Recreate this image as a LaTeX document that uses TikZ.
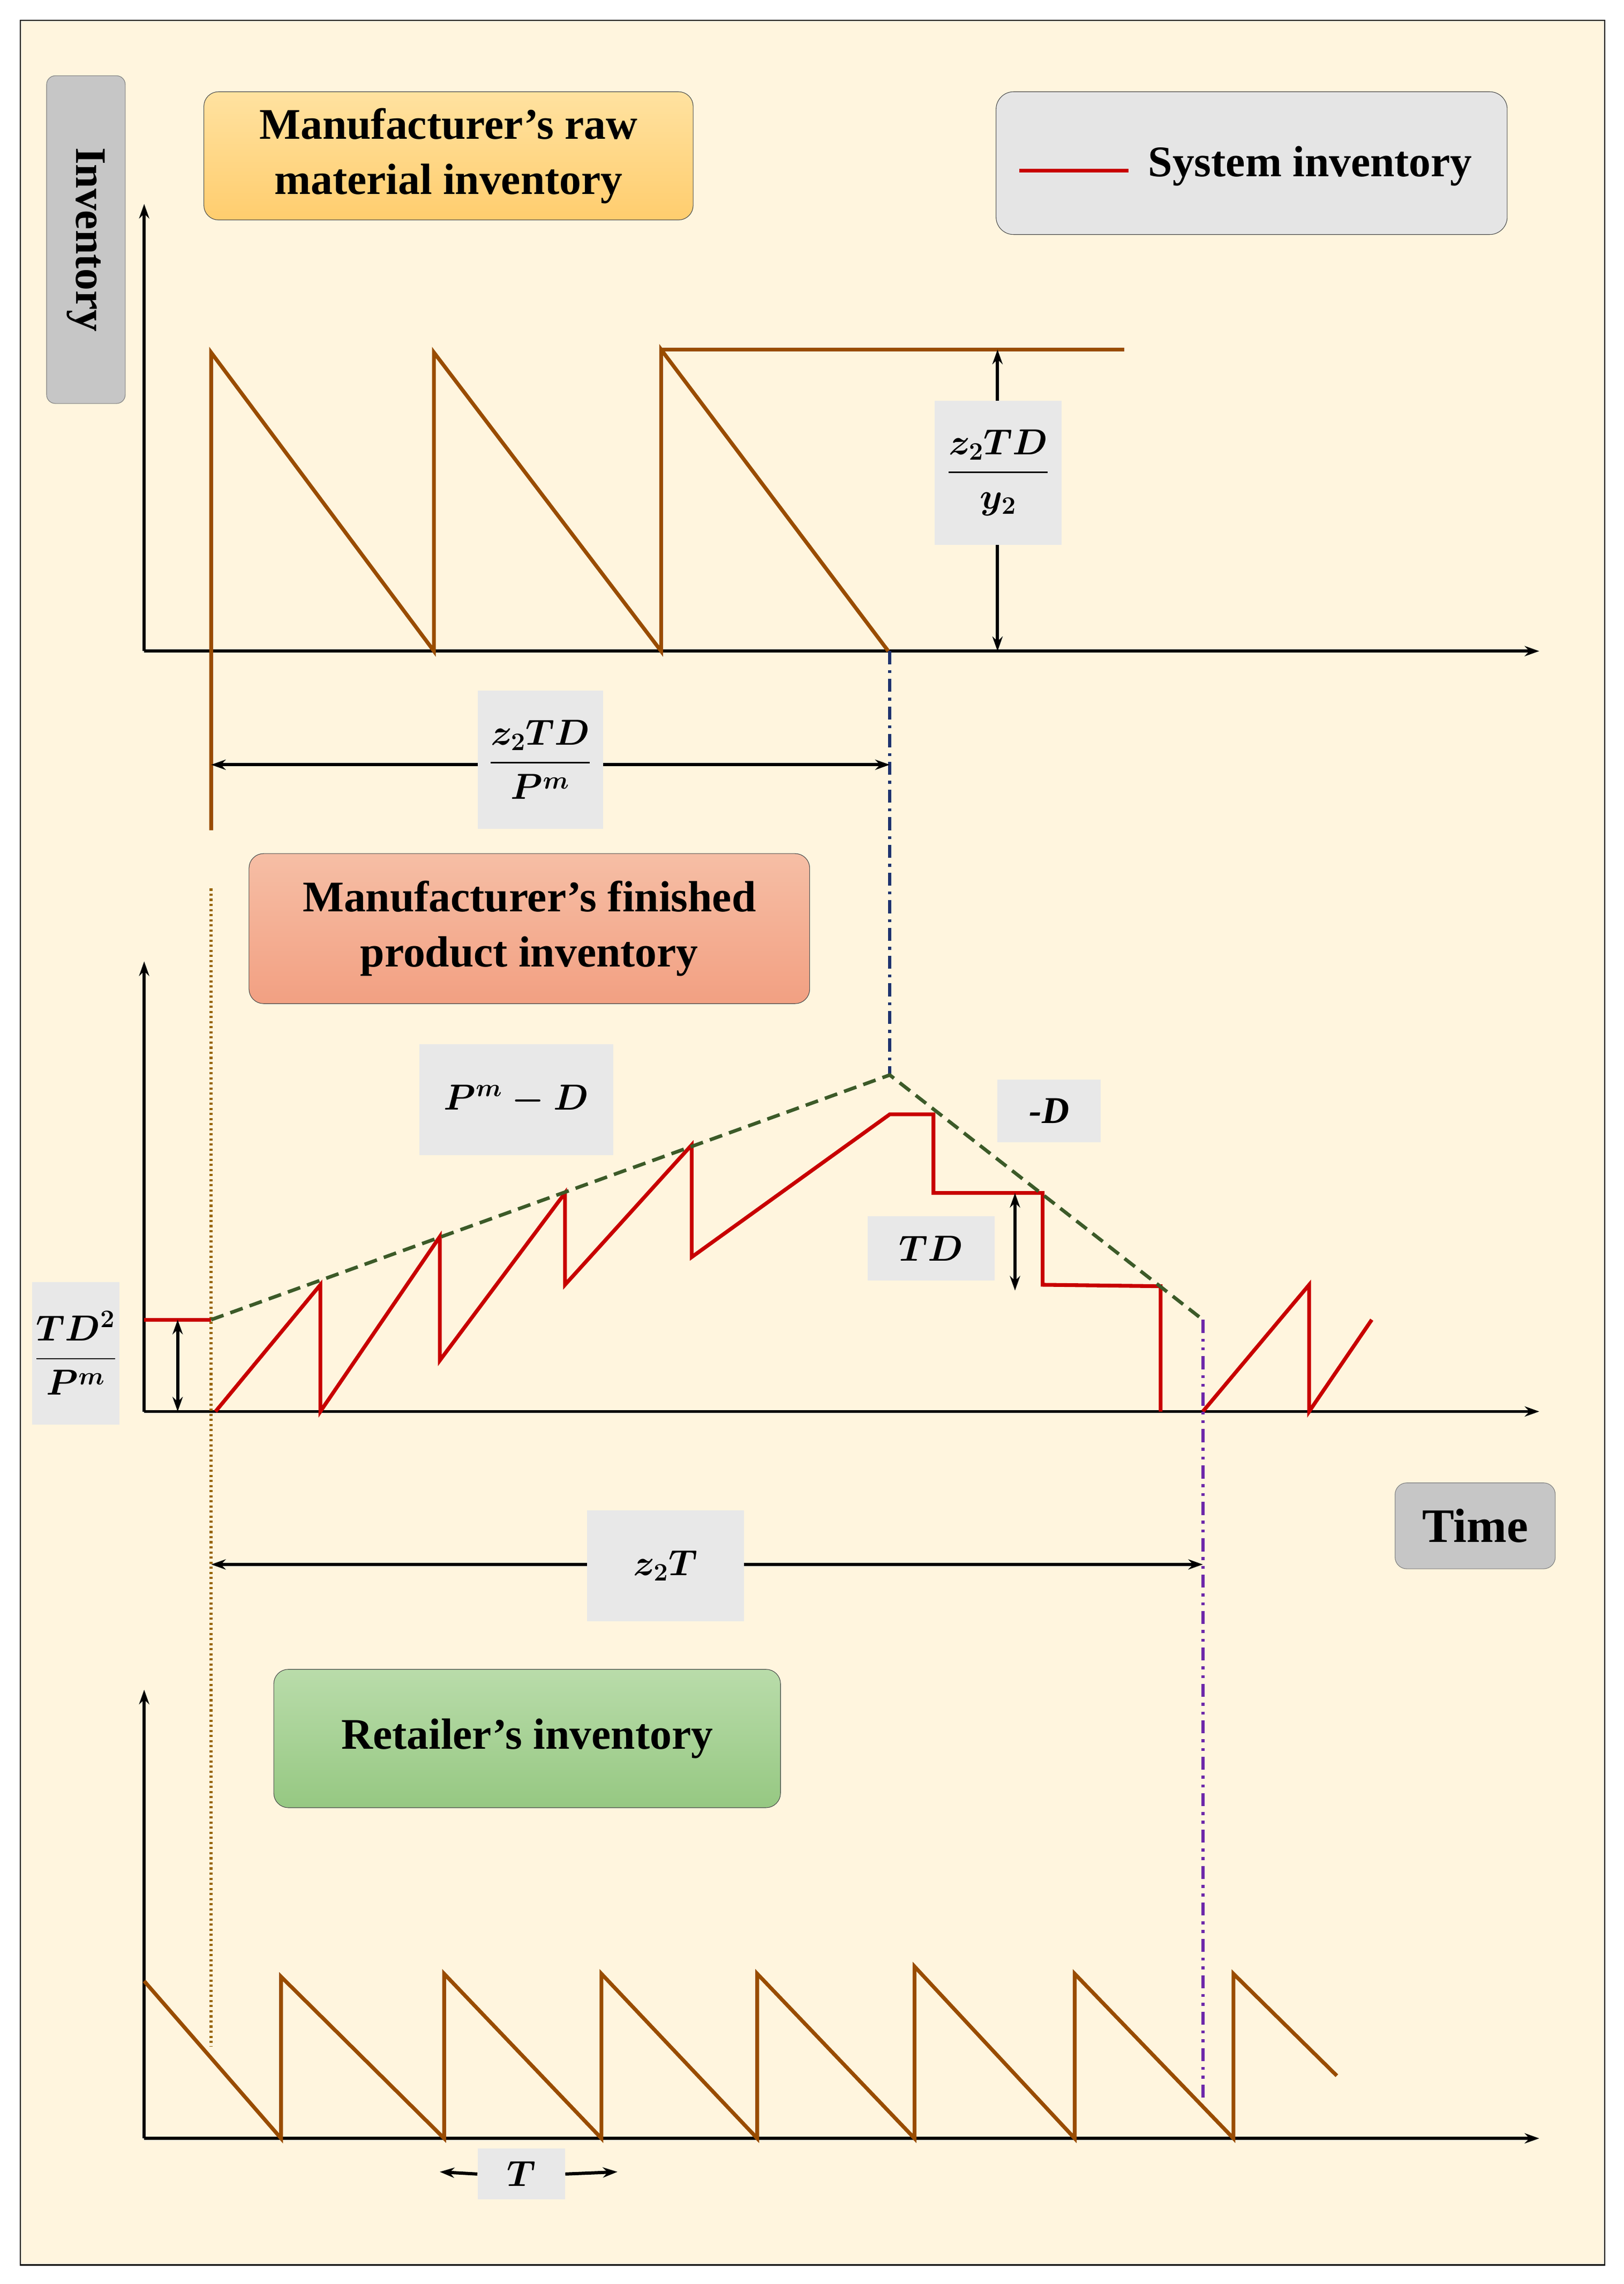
\documentclass[tikz,border=0pt]{standalone}
\usepackage{amsmath}
\usepackage{fontspec}
\setmainfont{Liberation Serif}
\usetikzlibrary{arrows.meta}
\begin{document}
\begin{tikzpicture}[x=1pt,y=-1pt,
  lab/.style={font=\fontsize{30}{38}\selectfont\bfseries,align=center},
  mbox/.style={fill=gray!18,inner sep=0pt},
  mth/.style={font=\fontsize{26}{30}\selectfont\boldmath},
  ax/.style={line width=2.2pt,-{Stealth[length=10pt,width=7pt]}},
  dar/.style={line width=2.2pt,{Stealth[length=10pt,width=7pt]}-{Stealth[length=10pt,width=7pt]}},
  br/.style={line width=2.6pt,draw={rgb,255:red,153;green,76;blue,0}},
  rd/.style={line width=2.6pt,draw={rgb,255:red,200;green,0;blue,0}}]
\fill[white] (0,0) rectangle (1115,1568);
\draw[fill={rgb,255:red,255;green,245;blue,222},line width=1pt] (14,14) rectangle (1102,1555);
% labels
\node[draw=gray,fill=gray!45,rounded corners=6pt,minimum width=54pt,minimum height=225pt] (inv) at (59,164.5) {};
\node[lab,rotate=-90] (invt) at (59,164.5) {Inventory};
\node[draw=black!70,rounded corners=10pt,top color={rgb,255:red,255;green,226;blue,160},bottom color={rgb,255:red,255;green,205;blue,110},minimum width=336pt,minimum height=88pt,lab] (b1) at (308,107) {Manufacturer’s raw\\material inventory};
\node[draw=black!70,rounded corners=12pt,fill=gray!20,minimum width=351pt,minimum height=98pt] (leg) at (859.5,112) {};
\coordinate (l1) at (700,117); \coordinate (l2) at (775,117);
\draw[rd] (l1) -- (l2);
\node[lab,anchor=west] (legt) at (785,114) {System inventory};
\node[draw=black!70,rounded corners=10pt,top color={rgb,255:red,246;green,190;blue,165},bottom color={rgb,255:red,242;green,160;blue,130},minimum width=385pt,minimum height=103pt,lab] (b2) at (363.5,637.5) {Manufacturer’s finished\\product inventory};
\node[draw=black!70,rounded corners=10pt,top color={rgb,255:red,185;green,220;blue,170},bottom color={rgb,255:red,150;green,200;blue,130},minimum width=348pt,minimum height=95pt,lab] (b3) at (362,1193.5) {Retailer’s inventory};
\node[draw=gray,fill=gray!45,rounded corners=8pt,minimum width=110pt,minimum height=59pt,font=\fontsize{33}{36}\selectfont\bfseries] (time) at (1013,1047.5) {Time};
% axes
\coordinate (o1) at (99,447); \coordinate (y1) at (99,140); \coordinate (x1) at (1057,447);
\draw[ax] (o1) -- (y1); \draw[ax] (o1) -- (x1);
\coordinate (o2) at (99,969); \coordinate (y2) at (99,660); \coordinate (x2) at (1057,969);
\draw[ax] (o2) -- (y2); \draw[ax] (o2) -- (x2);
\coordinate (o3) at (99,1468); \coordinate (y3) at (99,1160); \coordinate (x3) at (1057,1468);
\draw[ax] (o3) -- (y3); \draw[ax] (o3) -- (x3);
% raw material
\draw[br] (145,570) -- (145,242) -- (298,447) -- (298,242) -- (454,447) -- (454,240) -- (610,447);
\draw[br] (454,240) -- (772,240);
\coordinate (a1) at (685,240); \coordinate (a2) at (685,447);
\draw[dar] (a1) -- (a2);
\node[mbox,minimum width=87pt,minimum height=99pt,mth] (f1) at (685.5,324.5) {$\dfrac{z_2TD}{y_2}$};
\draw[line width=2.2pt,draw={rgb,255:red,30;green,50;blue,110},dash pattern=on 9pt off 4pt on 2pt off 4pt] (611,447) -- (611,738);
\coordinate (h1) at (145,525); \coordinate (h2) at (611,525);
\draw[dar] (h1) -- (h2);
\node[mbox,minimum width=86pt,minimum height=95pt,mth] (f2) at (371,521.5) {$\dfrac{z_2TD}{P^m}$};
\draw[line width=2.2pt,draw={rgb,255:red,153;green,102;blue,0},dash pattern=on 1.5pt off 2pt] (145,610) -- (145,1405);
% finished
\draw[rd] (99,906) -- (145,906);
\draw[rd] (148,969) -- (220,882) -- (220,969) -- (302,849) -- (302,934) -- (388,819) -- (388,882) -- (475,786) -- (475,863) -- (611,765) -- (641,765) -- (641,819) -- (716,819) -- (716,882) -- (797,883) -- (797,969);
\draw[rd] (826,969) -- (899,882) -- (899,969) -- (942,906);
\draw[line width=2.4pt,draw={rgb,255:red,60;green,90;blue,40},dash pattern=on 9pt off 5pt] (145,906) -- (611,738) -- (826,906);
\coordinate (v1) at (122,906); \coordinate (v2) at (122,969);
\draw[dar] (v1) -- (v2);
\node[mbox,minimum width=60pt,minimum height=98pt,mth] (f3) at (52,929) {$\dfrac{TD^2}{P^m}$};
\node[mbox,minimum width=133pt,minimum height=76pt,mth] (f4) at (354.5,755) {$P^m-D$};
\node[mbox,minimum width=71pt,minimum height=43pt,mth] (f5) at (720.5,762.5) {\textbf{\textit{-D}}};
\node[mbox,minimum width=87pt,minimum height=44pt,mth] (f6) at (639.5,857) {$TD$};
\coordinate (w1) at (697,819); \coordinate (w2) at (697,886);
\draw[dar] (w1) -- (w2);
\draw[line width=2.2pt,draw={rgb,255:red,110;green,40;blue,170},dash pattern=on 9pt off 4pt on 2pt off 4pt on 2pt off 4pt] (826,906) -- (826,1440);
\coordinate (k1) at (145,1074); \coordinate (k2) at (826,1074);
\draw[dar] (k1) -- (k2);
\node[mbox,minimum width=108pt,minimum height=76pt,mth] (f7) at (457,1075) {$z_2T$};
% retailer
\draw[br] (99,1360) -- (193,1468) -- (193,1357) -- (305,1468) -- (305,1355) -- (413,1468) -- (413,1355) -- (520,1468) -- (520,1355) -- (628,1468) -- (628,1350) -- (738,1468) -- (738,1355) -- (847,1468) -- (847,1355) -- (918,1425);
\node[mbox,minimum width=60pt,minimum height=35pt,mth] (f8) at (358,1492.5) {$T$};
\coordinate (t1) at (302,1491); \coordinate (t2) at (424,1491);
\draw[ax] (f8.west) -- (t1); \draw[ax] (f8.east) -- (t2);
\end{tikzpicture}
\end{document}
